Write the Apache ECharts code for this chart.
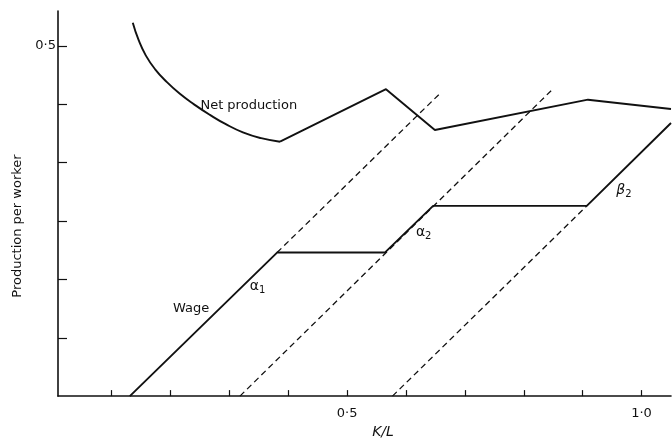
<!DOCTYPE html>
<html>
<head>
<meta charset="utf-8">
<script src="https://cdn.jsdelivr.net/npm/echarts@6/dist/echarts.min.js"></script>
<style>html,body{margin:0;padding:0;background:#fff}#c{width:672px;height:444px}</style>
</head>
<body>
<div id="c"></div>
<script>
// ---- data ----
const xTicks = [0.1, 0.2, 0.3, 0.4, 0.5, 0.6, 0.7, 0.8, 0.9, 1.0];
const xLabelValues = [0.5, 1.0];
const xLabelTexts = ['0·5', '1·0'];
const yTicks = [0.25, 0.3, 0.35, 0.4, 0.45, 0.5];
const yLabelValues = [0.5];
const yLabelTexts = ['0·5'];

// Net production: curved part, then kinked part
const netArcK = [0.136, 0.146, 0.158, 0.174, 0.194, 0.216, 0.240, 0.267, 0.294, 0.323, 0.354, 0.386];
const netArcY = [0.520, 0.505, 0.492, 0.480, 0.469, 0.459, 0.450, 0.441, 0.433, 0.426, 0.421, 0.418];
const netKinkK = [0.386, 0.566, 0.649, 0.909, 1.05];
const netKinkY = [0.418, 0.463, 0.428, 0.454, 0.446];

// Wage (solid)
const wageK = [0.131, 0.381, 0.564, 0.646, 0.907, 1.05];
const wageY = [0.200, 0.323, 0.323, 0.363, 0.363, 0.434];

// Dashed technique lines
const dashAK = [0.381, 0.657], dashAY = [0.323, 0.459];
const dashBK = [0.318, 0.847], dashBY = [0.200, 0.462];
const dashCK = [0.577, 0.907], dashCY = [0.200, 0.363];

// Annotations (anchored in data coordinates)
const annoK = [0.333, 0.235, 0.348, 0.630, 0.970];
const annoY = [0.449, 0.275, 0.294, 0.340, 0.376];
const annoText = ['Net production', 'Wage', '{g|α}{s|1}', '{g|α}{s|2}', '{b|β}{s|2}'];

const zip = (a, b) => a.map((v, i) => [v, b[i]]);
const ink = '#111';
const font = 'DejaVu Sans, Liberation Sans, sans-serif';

const chart = echarts.init(document.getElementById('c'));
chart.setOption({
  animation: false,
  backgroundColor: '#fff',
  textStyle: { fontFamily: font, color: ink },
  grid: { left: 58, right: 1, top: 11, bottom: 44 },
  xAxis: {
    type: 'value', min: 0.009, max: 1.05,
    axisLine: { lineStyle: { color: ink, width: 1.6 } },
    axisTick: { inside: true, length: 6, customValues: xTicks, lineStyle: { color: ink, width: 1.2 } },
    axisLabel: {
      customValues: xLabelValues, color: ink, fontSize: 13, margin: 11, fontFamily: font,
      formatter: v => { const i = xLabelValues.findIndex(x => Math.abs(x - v) < 1e-9); return i >= 0 ? xLabelTexts[i] : ''; }
    },
    splitLine: { show: false },
    name: 'K/L', nameLocation: 'middle', nameGap: 28,
    nameTextStyle: { fontStyle: 'italic', fontSize: 14, color: ink, fontFamily: font, padding: [0, 0, 0, 37] }
  },
  yAxis: {
    type: 'value', min: 0.2, max: 0.53,
    axisLine: { show: true, lineStyle: { color: ink, width: 1.6 } },
    axisTick: { show: true, inside: true, length: 9, customValues: yTicks, lineStyle: { color: ink, width: 1.2 } },
    axisLabel: {
      customValues: yLabelValues, color: ink, fontSize: 13, margin: 2, fontFamily: font,
      formatter: v => { const i = yLabelValues.findIndex(x => Math.abs(x - v) < 1e-9); return i >= 0 ? yLabelTexts[i] : ''; }
    },
    splitLine: { show: false },
    name: 'Production per worker', nameLocation: 'middle', nameGap: 22, nameRotate: 90,
    nameTextStyle: { fontSize: 13, color: ink, fontFamily: font, padding: [0, 45, 0, 0] }
  },
  series: [
    { type: 'line', data: zip(netArcK, netArcY), smooth: 0.5, symbol: 'none', lineStyle: { color: ink, width: 1.9 } },
    { type: 'line', data: zip(netKinkK, netKinkY), symbol: 'none', lineStyle: { color: ink, width: 1.9 } },
    { type: 'line', data: zip(wageK, wageY), symbol: 'none', lineStyle: { color: ink, width: 1.9 } },
    { type: 'line', data: zip(dashAK, dashAY), symbol: 'none', lineStyle: { color: ink, width: 1.3, type: [6, 4] } },
    { type: 'line', data: zip(dashBK, dashBY), symbol: 'none', lineStyle: { color: ink, width: 1.3, type: [6, 4] } },
    { type: 'line', data: zip(dashCK, dashCY), symbol: 'none', lineStyle: { color: ink, width: 1.3, type: [6, 4] } },
    {
      type: 'scatter', symbolSize: 0, itemStyle: { opacity: 1, color: ink },
      data: annoK.map((k, i) => ({ value: [k, annoY[i]], name: annoText[i] })),
      label: {
        show: true, position: 'inside', formatter: '{b}', color: ink, fontSize: 13, fontFamily: font,
        textBorderWidth: 0, opacity: 1,
        rich: {
          g: { fontSize: 14, color: ink, fontFamily: font, textBorderWidth: 0 },
          b: { fontSize: 14, color: ink, fontStyle: 'italic', fontFamily: font, textBorderWidth: 0 },
          s: { fontSize: 10, color: ink, fontFamily: font, padding: [8, 0, 0, 0], textBorderWidth: 0 }
        }
      }
    }
  ]
});
</script>
</body>
</html>
